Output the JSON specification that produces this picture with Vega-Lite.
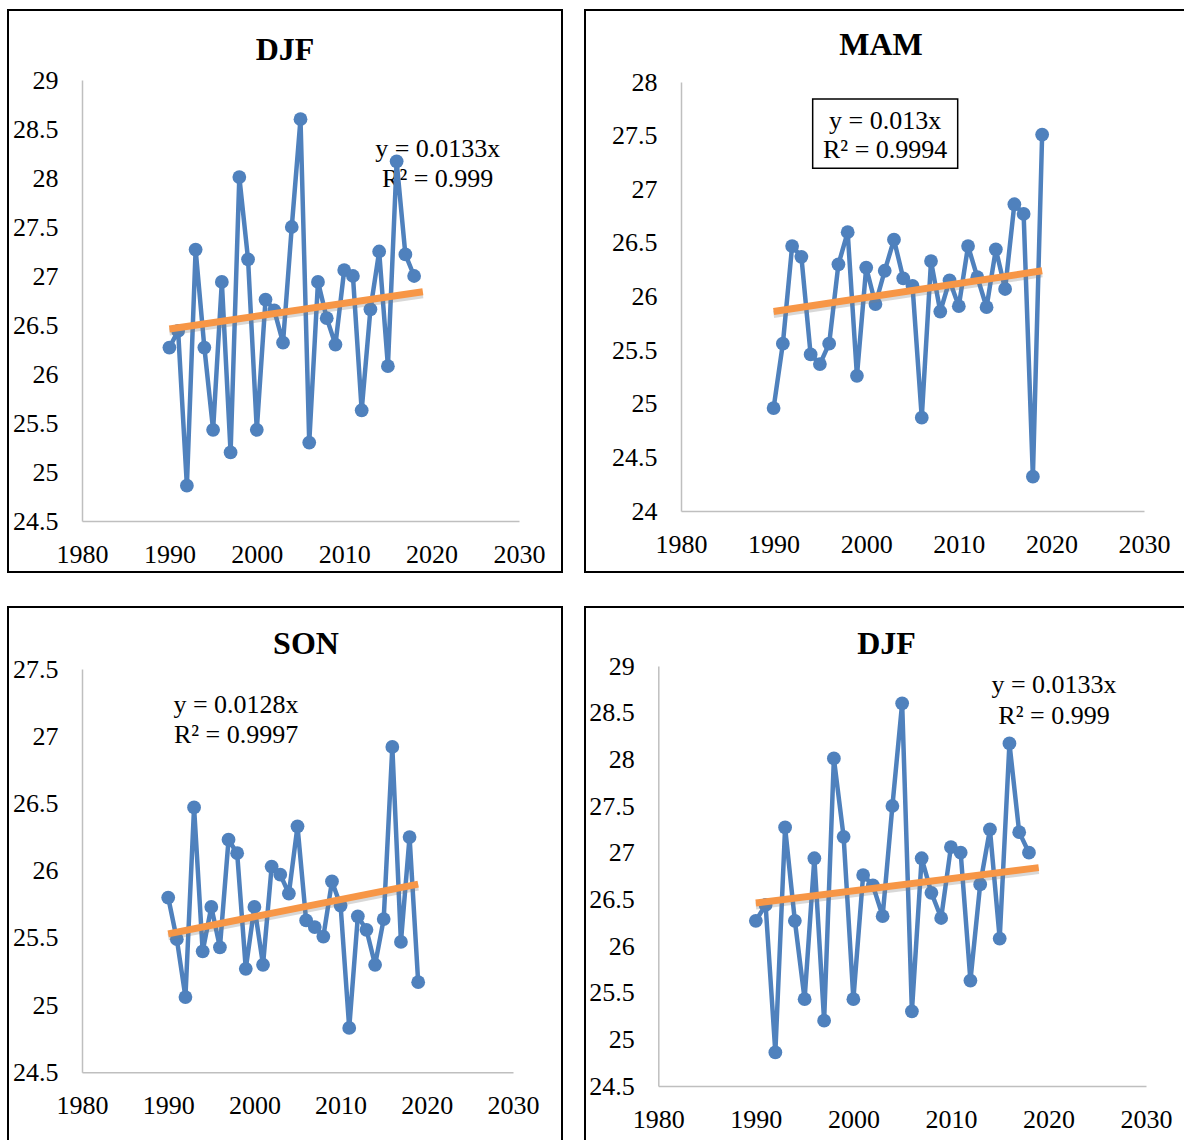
{
  "$schema": "https://vega.github.io/schema/vega-lite/v6.json",
  "padding": {"left": 7, "top": 9, "right": 0, "bottom": 0},
  "background": "white",
  "datasets": {
    "djf": [
      {"year": 1990, "temp": 26.27}, {"year": 1991, "temp": 26.44}, {"year": 1992, "temp": 24.86}, {"year": 1993, "temp": 27.27},
      {"year": 1994, "temp": 26.27}, {"year": 1995, "temp": 25.43}, {"year": 1996, "temp": 26.94}, {"year": 1997, "temp": 25.2},
      {"year": 1998, "temp": 28.01}, {"year": 1999, "temp": 27.17}, {"year": 2000, "temp": 25.43}, {"year": 2001, "temp": 26.76},
      {"year": 2002, "temp": 26.65}, {"year": 2003, "temp": 26.32}, {"year": 2004, "temp": 27.5}, {"year": 2005, "temp": 28.6},
      {"year": 2006, "temp": 25.3}, {"year": 2007, "temp": 26.94}, {"year": 2008, "temp": 26.57}, {"year": 2009, "temp": 26.3},
      {"year": 2010, "temp": 27.06}, {"year": 2011, "temp": 27.0}, {"year": 2012, "temp": 25.63}, {"year": 2013, "temp": 26.66},
      {"year": 2014, "temp": 27.25}, {"year": 2015, "temp": 26.08}, {"year": 2016, "temp": 28.17}, {"year": 2017, "temp": 27.22},
      {"year": 2018, "temp": 27.0}
    ],
    "mam": [
      {"year": 1990, "temp": 24.96}, {"year": 1991, "temp": 25.56}, {"year": 1992, "temp": 26.47}, {"year": 1993, "temp": 26.37},
      {"year": 1994, "temp": 25.46}, {"year": 1995, "temp": 25.37}, {"year": 1996, "temp": 25.56}, {"year": 1997, "temp": 26.3},
      {"year": 1998, "temp": 26.6}, {"year": 1999, "temp": 25.26}, {"year": 2000, "temp": 26.27}, {"year": 2001, "temp": 25.93},
      {"year": 2002, "temp": 26.24}, {"year": 2003, "temp": 26.53}, {"year": 2004, "temp": 26.17}, {"year": 2005, "temp": 26.1},
      {"year": 2006, "temp": 24.87}, {"year": 2007, "temp": 26.33}, {"year": 2008, "temp": 25.86}, {"year": 2009, "temp": 26.15},
      {"year": 2010, "temp": 25.91}, {"year": 2011, "temp": 26.47}, {"year": 2012, "temp": 26.18}, {"year": 2013, "temp": 25.9},
      {"year": 2014, "temp": 26.44}, {"year": 2015, "temp": 26.07}, {"year": 2016, "temp": 26.86}, {"year": 2017, "temp": 26.77},
      {"year": 2018, "temp": 24.32}, {"year": 2019, "temp": 27.51}
    ],
    "son": [
      {"year": 1990, "temp": 25.8}, {"year": 1991, "temp": 25.49}, {"year": 1992, "temp": 25.06}, {"year": 1993, "temp": 26.47},
      {"year": 1994, "temp": 25.4}, {"year": 1995, "temp": 25.73}, {"year": 1996, "temp": 25.43}, {"year": 1997, "temp": 26.23},
      {"year": 1998, "temp": 26.13}, {"year": 1999, "temp": 25.27}, {"year": 2000, "temp": 25.73}, {"year": 2001, "temp": 25.3},
      {"year": 2002, "temp": 26.03}, {"year": 2003, "temp": 25.97}, {"year": 2004, "temp": 25.83}, {"year": 2005, "temp": 26.33},
      {"year": 2006, "temp": 25.63}, {"year": 2007, "temp": 25.58}, {"year": 2008, "temp": 25.51}, {"year": 2009, "temp": 25.92},
      {"year": 2010, "temp": 25.74}, {"year": 2011, "temp": 24.83}, {"year": 2012, "temp": 25.66}, {"year": 2013, "temp": 25.56},
      {"year": 2014, "temp": 25.3}, {"year": 2015, "temp": 25.64}, {"year": 2016, "temp": 26.92}, {"year": 2017, "temp": 25.47},
      {"year": 2018, "temp": 26.25}, {"year": 2019, "temp": 25.17}
    ],
    "trend_djf": [{"year": 1990, "temp": 26.46}, {"year": 2019, "temp": 26.84}],
    "trend_mam": [{"year": 1990, "temp": 25.86}, {"year": 2019, "temp": 26.24}],
    "trend_son": [{"year": 1990, "temp": 25.53}, {"year": 2019, "temp": 25.9}]
  },
  "vconcat": [
    {
      "spacing": 21,
      "hconcat": [
        {
          "width": 554, "height": 562,
          "title": {"text": "DJF", "offset": -56.5},
          "layer": [
            {"data": {"values": [{"note": "y = 0.0133x\nR² = 0.999"}]}, "mark": {"type": "text", "lineBreak": "\n", "lineHeight": 30, "align": "center", "baseline": "alphabetic", "font": "Liberation Serif", "fontSize": 26, "color": "black"},
             "encoding": {"x": {"datum": 2020.7, "type": "quantitative", "scale": {"domain": [1980, 2030], "range": [74, 511], "nice": false, "zero": false}}, "y": {"datum": 28.217, "type": "quantitative", "scale": {"domain": [24.5, 29], "range": [511, 70], "nice": false, "zero": false}}, "text": {"field": "note", "type": "nominal"}}},
            {"data": {"name": "djf"}, "mark": {"type": "line", "color": "#4f81bd", "strokeWidth": 4.5, "strokeJoin": "round"},
             "encoding": {"x": {"field": "year", "type": "quantitative", "scale": {"domain": [1980, 2030], "range": [74, 511], "nice": false, "zero": false}, "axis": {"values": [1980, 1990, 2000, 2010, 2020, 2030], "format": "d", "offset": -51, "title": null}}, "y": {"field": "temp", "type": "quantitative", "scale": {"domain": [24.5, 29], "range": [511, 70], "nice": false, "zero": false}, "axis": {"values": [24.5, 25, 25.5, 26, 26.5, 27, 27.5, 28, 28.5, 29], "format": "~g", "offset": -74, "title": null}}}},
            {"data": {"name": "djf"}, "mark": {"type": "circle", "color": "#4f81bd", "size": 190, "opacity": 1},
             "encoding": {"x": {"field": "year", "type": "quantitative", "scale": {"domain": [1980, 2030], "range": [74, 511], "nice": false, "zero": false}}, "y": {"field": "temp", "type": "quantitative", "scale": {"domain": [24.5, 29], "range": [511, 70], "nice": false, "zero": false}}}},
            {"data": {"name": "trend_djf"}, "mark": {"type": "line", "color": "#7f7f7f", "strokeWidth": 7, "opacity": 0.3, "yOffset": 3},
             "encoding": {"x": {"field": "year", "type": "quantitative", "scale": {"domain": [1980, 2030], "range": [74, 511], "nice": false, "zero": false}}, "y": {"field": "temp", "type": "quantitative", "scale": {"domain": [24.5, 29], "range": [511, 70], "nice": false, "zero": false}}}},
            {"data": {"name": "trend_djf"}, "mark": {"type": "line", "color": "#f79646", "strokeWidth": 7},
             "encoding": {"x": {"field": "year", "type": "quantitative", "scale": {"domain": [1980, 2030], "range": [74, 511], "nice": false, "zero": false}}, "y": {"field": "temp", "type": "quantitative", "scale": {"domain": [24.5, 29], "range": [511, 70], "nice": false, "zero": false}}}}
          ]
        },
        {
          "width": 600, "height": 562,
          "title": {"text": "MAM", "offset": -52, "dx": -4},
          "layer": [
            {"data": {"values": [{"note": "box"}]}, "mark": {"type": "rect", "fill": "white", "stroke": "black", "strokeWidth": 1.5},
             "encoding": {"x": {"datum": 1994.22, "type": "quantitative", "scale": {"domain": [1980, 2030], "range": [96, 559], "nice": false, "zero": false}}, "x2": {"datum": 2009.88}, "y": {"datum": 27.841, "type": "quantitative", "scale": {"domain": [24, 28], "range": [501, 72], "nice": false, "zero": false}}, "y2": {"datum": 27.195}}},
            {"data": {"values": [{"note": "y = 0.013x\nR² = 0.9994"}]}, "mark": {"type": "text", "lineBreak": "\n", "lineHeight": 29, "align": "center", "baseline": "alphabetic", "font": "Liberation Serif", "fontSize": 26, "color": "black"},
             "encoding": {"x": {"datum": 2002.05, "type": "quantitative", "scale": {"domain": [1980, 2030], "range": [96, 559], "nice": false, "zero": false}}, "y": {"datum": 27.559, "type": "quantitative", "scale": {"domain": [24, 28], "range": [501, 72], "nice": false, "zero": false}}, "text": {"field": "note", "type": "nominal"}}},
            {"data": {"name": "mam"}, "mark": {"type": "line", "color": "#4f81bd", "strokeWidth": 4.5, "strokeJoin": "round"},
             "encoding": {"x": {"field": "year", "type": "quantitative", "scale": {"domain": [1980, 2030], "range": [96, 559], "nice": false, "zero": false}, "axis": {"values": [1980, 1990, 2000, 2010, 2020, 2030], "format": "d", "offset": -61, "title": null}}, "y": {"field": "temp", "type": "quantitative", "scale": {"domain": [24, 28], "range": [501, 72], "nice": false, "zero": false}, "axis": {"values": [24, 24.5, 25, 25.5, 26, 26.5, 27, 27.5, 28], "format": "~g", "offset": -96, "title": null}}}},
            {"data": {"name": "mam"}, "mark": {"type": "circle", "color": "#4f81bd", "size": 190, "opacity": 1},
             "encoding": {"x": {"field": "year", "type": "quantitative", "scale": {"domain": [1980, 2030], "range": [96, 559], "nice": false, "zero": false}}, "y": {"field": "temp", "type": "quantitative", "scale": {"domain": [24, 28], "range": [501, 72], "nice": false, "zero": false}}}},
            {"data": {"name": "trend_mam"}, "mark": {"type": "line", "color": "#7f7f7f", "strokeWidth": 7, "opacity": 0.3, "yOffset": 3},
             "encoding": {"x": {"field": "year", "type": "quantitative", "scale": {"domain": [1980, 2030], "range": [96, 559], "nice": false, "zero": false}}, "y": {"field": "temp", "type": "quantitative", "scale": {"domain": [24, 28], "range": [501, 72], "nice": false, "zero": false}}}},
            {"data": {"name": "trend_mam"}, "mark": {"type": "line", "color": "#f79646", "strokeWidth": 7},
             "encoding": {"x": {"field": "year", "type": "quantitative", "scale": {"domain": [1980, 2030], "range": [96, 559], "nice": false, "zero": false}}, "y": {"field": "temp", "type": "quantitative", "scale": {"domain": [24, 28], "range": [501, 72], "nice": false, "zero": false}}}}
          ]
        }
      ]
    },
    {
      "spacing": 21,
      "hconcat": [
        {
          "width": 554, "height": 540,
          "title": {"text": "SON", "offset": -54, "dx": 21},
          "layer": [
            {"data": {"values": [{"note": "y = 0.0128x\nR² = 0.9997"}]}, "mark": {"type": "text", "lineBreak": "\n", "lineHeight": 30, "align": "center", "baseline": "alphabetic", "font": "Liberation Serif", "fontSize": 26, "color": "black"},
             "encoding": {"x": {"datum": 1997.87, "type": "quantitative", "scale": {"domain": [1980, 2030], "range": [74, 505], "nice": false, "zero": false}}, "y": {"datum": 27.173, "type": "quantitative", "scale": {"domain": [24.5, 27.5], "range": [465.3, 62], "nice": false, "zero": false}}, "text": {"field": "note", "type": "nominal"}}},
            {"data": {"name": "son"}, "mark": {"type": "line", "color": "#4f81bd", "strokeWidth": 4.5, "strokeJoin": "round"},
             "encoding": {"x": {"field": "year", "type": "quantitative", "scale": {"domain": [1980, 2030], "range": [74, 505], "nice": false, "zero": false}, "axis": {"values": [1980, 1990, 2000, 2010, 2020, 2030], "format": "d", "offset": -74.7, "title": null}}, "y": {"field": "temp", "type": "quantitative", "scale": {"domain": [24.5, 27.5], "range": [465.3, 62], "nice": false, "zero": false}, "axis": {"values": [24.5, 25, 25.5, 26, 26.5, 27, 27.5], "format": "~g", "offset": -74, "title": null}}}},
            {"data": {"name": "son"}, "mark": {"type": "circle", "color": "#4f81bd", "size": 190, "opacity": 1},
             "encoding": {"x": {"field": "year", "type": "quantitative", "scale": {"domain": [1980, 2030], "range": [74, 505], "nice": false, "zero": false}}, "y": {"field": "temp", "type": "quantitative", "scale": {"domain": [24.5, 27.5], "range": [465.3, 62], "nice": false, "zero": false}}}},
            {"data": {"name": "trend_son"}, "mark": {"type": "line", "color": "#7f7f7f", "strokeWidth": 7, "opacity": 0.3, "yOffset": 3},
             "encoding": {"x": {"field": "year", "type": "quantitative", "scale": {"domain": [1980, 2030], "range": [74, 505], "nice": false, "zero": false}}, "y": {"field": "temp", "type": "quantitative", "scale": {"domain": [24.5, 27.5], "range": [465.3, 62], "nice": false, "zero": false}}}},
            {"data": {"name": "trend_son"}, "mark": {"type": "line", "color": "#f79646", "strokeWidth": 7},
             "encoding": {"x": {"field": "year", "type": "quantitative", "scale": {"domain": [1980, 2030], "range": [74, 505], "nice": false, "zero": false}}, "y": {"field": "temp", "type": "quantitative", "scale": {"domain": [24.5, 27.5], "range": [465.3, 62], "nice": false, "zero": false}}}}
          ]
        },
        {
          "width": 600, "height": 540,
          "title": {"text": "DJF", "offset": -54, "dx": 1.5},
          "layer": [
            {"data": {"values": [{"note": "y = 0.0133x\nR² = 0.999"}]}, "mark": {"type": "text", "lineBreak": "\n", "lineHeight": 31, "align": "center", "baseline": "alphabetic", "font": "Liberation Serif", "fontSize": 26, "color": "black"},
             "encoding": {"x": {"datum": 2020.57, "type": "quantitative", "scale": {"domain": [1980, 2030], "range": [73.3, 561], "nice": false, "zero": false}}, "y": {"datum": 28.711, "type": "quantitative", "scale": {"domain": [24.5, 29], "range": [479, 59], "nice": false, "zero": false}}, "text": {"field": "note", "type": "nominal"}}},
            {"data": {"name": "djf"}, "mark": {"type": "line", "color": "#4f81bd", "strokeWidth": 4.5, "strokeJoin": "round"},
             "encoding": {"x": {"field": "year", "type": "quantitative", "scale": {"domain": [1980, 2030], "range": [73.3, 561], "nice": false, "zero": false}, "axis": {"values": [1980, 1990, 2000, 2010, 2020, 2030], "format": "d", "offset": -61, "title": null}}, "y": {"field": "temp", "type": "quantitative", "scale": {"domain": [24.5, 29], "range": [479, 59], "nice": false, "zero": false}, "axis": {"values": [24.5, 25, 25.5, 26, 26.5, 27, 27.5, 28, 28.5, 29], "format": "~g", "offset": -73.3, "title": null}}}},
            {"data": {"name": "djf"}, "mark": {"type": "circle", "color": "#4f81bd", "size": 190, "opacity": 1},
             "encoding": {"x": {"field": "year", "type": "quantitative", "scale": {"domain": [1980, 2030], "range": [73.3, 561], "nice": false, "zero": false}}, "y": {"field": "temp", "type": "quantitative", "scale": {"domain": [24.5, 29], "range": [479, 59], "nice": false, "zero": false}}}},
            {"data": {"name": "trend_djf"}, "mark": {"type": "line", "color": "#7f7f7f", "strokeWidth": 7, "opacity": 0.3, "yOffset": 3},
             "encoding": {"x": {"field": "year", "type": "quantitative", "scale": {"domain": [1980, 2030], "range": [73.3, 561], "nice": false, "zero": false}}, "y": {"field": "temp", "type": "quantitative", "scale": {"domain": [24.5, 29], "range": [479, 59], "nice": false, "zero": false}}}},
            {"data": {"name": "trend_djf"}, "mark": {"type": "line", "color": "#f79646", "strokeWidth": 7},
             "encoding": {"x": {"field": "year", "type": "quantitative", "scale": {"domain": [1980, 2030], "range": [73.3, 561], "nice": false, "zero": false}}, "y": {"field": "temp", "type": "quantitative", "scale": {"domain": [24.5, 29], "range": [479, 59], "nice": false, "zero": false}}}}
          ]
        }
      ]
    }
  ],
  "spacing": 33,
  "config": {
    "view": {"stroke": "black", "strokeWidth": 2, "fill": "white"},
    "axis": {"grid": false, "ticks": false, "domainColor": "#bfbfbf", "domainWidth": 1.5, "labelFont": "Liberation Serif", "labelFontSize": 26, "labelColor": "black", "labelOverlap": false, "labelFlush": false, "labelBound": false},
    "axisX": {"labelPadding": 20},
    "axisY": {"labelPadding": 24},
    "title": {"font": "Liberation Serif", "fontSize": 32, "fontWeight": "bold", "color": "black", "anchor": "middle", "frame": "group", "baseline": "alphabetic"}
  }
}
